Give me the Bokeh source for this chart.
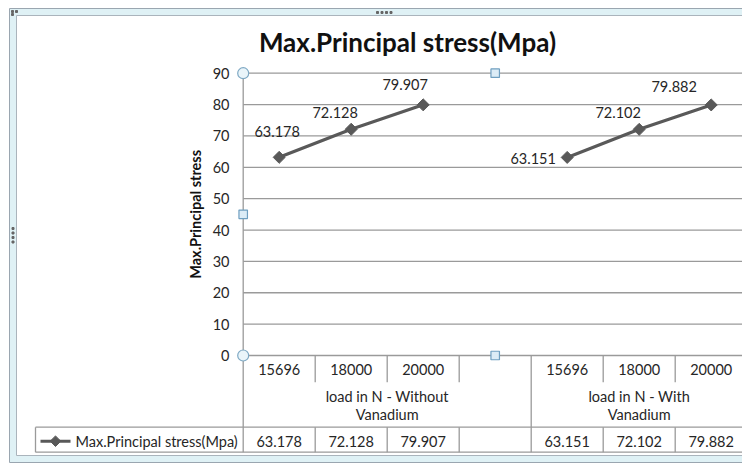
import math
from bokeh.plotting import figure
from bokeh.models import Range1d, ColumnDataSource
from bokeh.core.properties import value
from bokeh.embed import file_html
from bokeh.resources import INLINE

# ---------------- data ----------------
title_text = "Max.Principal stress(Mpa)"
y_title = "Max.Principal stress"
series_name = "Max.Principal stress(Mpa)"
categories = ["15696", "18000", "20000", "", "15696", "18000", "20000"]
group_line1 = ["load in N - Without", "load in N - With"]
group_line2 = ["Vanadium", "Vanadium"]
group_start = [0, 4]
group_end = [4, 7]
values = [63.178, 72.128, 79.907, float("nan"), 63.151, 72.102, 79.882]
y_ticks = [0, 10, 20, 30, 40, 50, 60, 70, 80, 90]
# data-label pixel offsets (layout only)
label_dx = [-2, -16, -18, 0, -34, -21, -37]
label_dy = [-26, -17, -20, 0, 1, -17, -18]

# ---------------- layout helpers (page pixel -> data) ----------------
W, H = 742, 464
OX, OY = 0, 0
X0 = 242.7               # left edge of category area (page px)
CW = 72.0                # px per category
Y0 = 355.0               # page px of value 0
PY = (355.0 - 72.7) / 90.0


def fx(px):
    return -0.5 + (px - X0) / CW


def fy(py):
    return (Y0 - py) / PY


FONT = value("Lato")
TXT = "#262626"
GRID = "#9a9a9a"
SER = "#595959"

p = figure(width=W, height=H, output_backend="svg", toolbar_location=None,
           x_range=Range1d(fx(OX), fx(OX + W)), y_range=Range1d(fy(OY + H), fy(OY)),
           x_axis_location=None, y_axis_location=None, min_border=0,
           background_fill_color="white", border_fill_color="white")
p.xgrid.visible = False
p.ygrid.visible = False
p.outline_line_color = None

# chart frame (selected Excel chart look)
p.quad(left=[fx(9)], right=[fx(800)], top=[fy(8)], bottom=[fy(462)],
       fill_color="#dff1f5", line_color="#9aa6b0", line_width=1)
p.quad(left=[fx(16)], right=[fx(800)], top=[fy(15)], bottom=[fy(455)],
       fill_color="white", line_color="#aab4bc", line_width=1)
# frame handle dots
p.scatter(x=[fx(v) for v in (377, 381.5, 386, 390.5)], y=[fy(12)] * 4,
          marker="square", size=2, color="#666666")
p.scatter(x=[fx(12.5)] * 4, y=[fy(v) for v in (228, 232.5, 237, 241.5)],
          marker="square", size=2, color="#666666")
p.scatter(x=[fx(12), fx(16), fx(12)], y=[fy(11), fy(11), fy(14)],
          marker="square", size=2, color="#666666")

n = len(categories)
right_edge = n - 0.5

# title
p.text(x=[fx(407)], y=[fy(41)], text=[title_text], text_font=FONT,
       text_font_style="bold", text_font_size="26px", text_color="#111111",
       text_align="center", text_baseline="middle")

# y-axis title
p.text(x=[fx(195)], y=[(y_ticks[0] + y_ticks[-1]) / 2], text=[y_title], angle=math.pi / 2,
       text_font=FONT, text_font_style="bold", text_font_size="14.5px",
       text_color="#111111", text_align="center", text_baseline="middle")

# gridlines
p.segment(x0=[-0.5] * len(y_ticks), x1=[right_edge] * len(y_ticks), y0=y_ticks, y1=y_ticks,
          line_color=GRID, line_width=1.3)
# tick labels
p.text(x=[fx(229)] * len(y_ticks), y=y_ticks, text=[str(t) for t in y_ticks],
       text_font=FONT, text_font_size="14.5px", text_color=TXT,
       text_align="right", text_baseline="middle")

# table geometry
row_cat_bot = fy(381.7)
row_dat_top = fy(426.7)
row_dat_bot = fy(451.7)
y_cat_txt = fy(369)
y_grp1 = fy(395.7)
y_grp2 = fy(414)
y_dat_txt = fy(440.7)

full_bounds = [s - 0.5 for s in group_start] + [group_end[-1] - 0.5]
part_bounds = [k - 0.5 for k in range(1, n) if (k not in group_start)]
# full vertical lines (axis line continues into the table)
p.segment(x0=full_bounds, x1=full_bounds, y0=[y_ticks[-1]] + [0] * (len(full_bounds) - 1),
          y1=[row_dat_bot] * len(full_bounds), line_color=GRID, line_width=1.3)
# partial vertical lines: category row and data row
p.segment(x0=part_bounds, x1=part_bounds, y0=[0] * len(part_bounds),
          y1=[row_cat_bot] * len(part_bounds), line_color=GRID, line_width=1.3)
p.segment(x0=part_bounds, x1=part_bounds, y0=[row_dat_top] * len(part_bounds),
          y1=[row_dat_bot] * len(part_bounds), line_color=GRID, line_width=1.3)
# data row horizontal lines + legend cell
p.segment(x0=[fx(35)] * 2, x1=[right_edge] * 2, y0=[row_dat_top, row_dat_bot],
          y1=[row_dat_top, row_dat_bot], line_color=GRID, line_width=1.3)
p.segment(x0=[fx(35)], x1=[fx(35)], y0=[row_dat_top], y1=[row_dat_bot],
          line_color=GRID, line_width=1.3)

idx = list(range(n))
# category labels
p.text(x=idx, y=[y_cat_txt] * n, text=categories, text_font=FONT, text_font_size="14.5px",
       text_color=TXT, text_align="center", text_baseline="middle")
# group labels
gc = [(s + e - 1) / 2 for s, e in zip(group_start, group_end)]
p.text(x=gc, y=[y_grp1] * len(gc), text=group_line1, text_font=FONT, text_font_size="14.5px",
       text_color=TXT, text_align="center", text_baseline="middle")
p.text(x=gc, y=[y_grp2] * len(gc), text=group_line2, text_font=FONT, text_font_size="14.5px",
       text_color=TXT, text_align="center", text_baseline="middle")
# data row
val_txt = ["" if math.isnan(v) else f"{v:.3f}" for v in values]
p.text(x=idx, y=[y_dat_txt] * n, text=val_txt, text_font=FONT, text_font_size="14.5px",
       text_color=TXT, text_align="center", text_baseline="middle")
# legend key in table
p.line(x=[fx(40), fx(70)], y=[y_dat_txt] * 2, line_color=SER, line_width=3)
p.scatter(x=[fx(55)], y=[y_dat_txt], marker="square", angle=math.pi / 4, size=7.5,
          fill_color=SER, line_color=SER)
p.text(x=[fx(75)], y=[y_dat_txt], text=[series_name], text_font=FONT, text_font_size="14.5px",
       text_color=TXT, text_align="left", text_baseline="middle")

# series
src = ColumnDataSource(dict(x=idx, y=values, lbl=val_txt, dx=label_dx, dy=label_dy))
p.line(x="x", y="y", source=src, line_color=SER, line_width=3.2)
p.scatter(x="x", y="y", source=src, marker="square", angle=math.pi / 4, size=8.5,
          fill_color=SER, line_color=SER)
p.text(x="x", y="y", text="lbl", x_offset="dx", y_offset="dy", source=src,
       text_font=FONT, text_font_size="14.5px", text_color=TXT,
       text_align="center", text_baseline="middle")

# plot-area selection handles
p.scatter(x=[-0.5, -0.5], y=[y_ticks[-1], y_ticks[0]], marker="circle", size=11,
          fill_color="#eaf5fa", line_color="#7fa9c4", line_width=1.2)
p.scatter(x=[-0.5, (right_edge - 0.5) / 2, (right_edge - 0.5) / 2],
          y=[y_ticks[-1] / 2, y_ticks[-1], y_ticks[0]], marker="square", size=8.5,
          fill_color="#dcecf6", line_color="#6f9fc0", line_width=1.2)

open("out.html", "w").write(file_html(p, INLINE))
